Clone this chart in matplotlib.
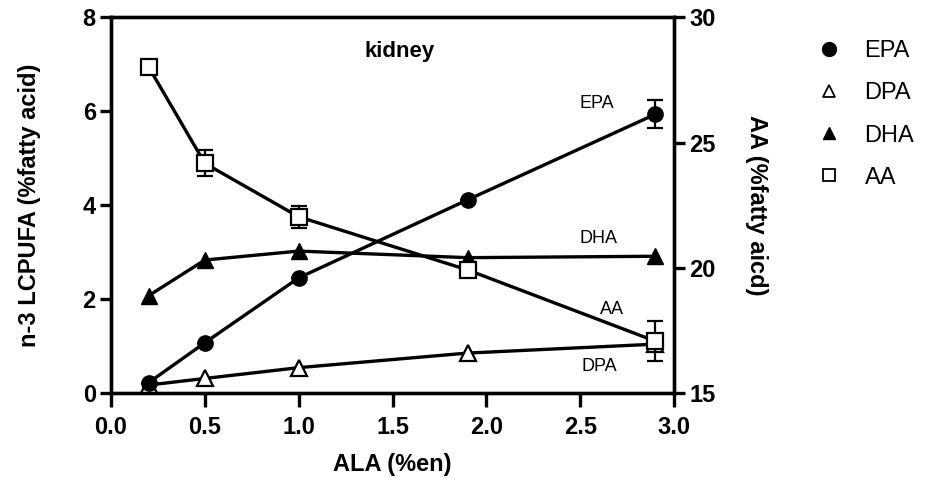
import matplotlib
matplotlib.use("Agg")
import matplotlib.pyplot as plt
from matplotlib.lines import Line2D

plt.rcParams['font.family'] = ['Liberation Sans', 'DejaVu Sans']

ala = [0.2, 0.5, 1.0, 1.9, 2.9]

epa = [0.23, 1.08, 2.46, 4.12, 5.94]
epa_err = [0.0, 0.0, 0.0, 0.0, 0.30]
dpa = [0.18, 0.32, 0.55, 0.86, 1.05]
dha = [2.08, 2.84, 3.03, 2.89, 2.92]
aa = [28.03, 24.18, 22.05, 19.93, 17.09]
aa_err = [0.0, 0.52, 0.44, 0.0, 0.80]

series_names = ['EPA', 'DPA', 'DHA', 'AA']

fig = plt.figure(figsize=(9.3, 4.79), dpi=100)
ax = fig.add_axes([0.1194, 0.1785, 0.6053, 0.785])
ax2 = ax.twinx()

lw = 2.4
ms = 11
style = dict(color='black', lw=lw, capsize=5.5, elinewidth=1.6, capthick=1.6)

ax.errorbar(ala, dpa, marker='^', ms=ms, mfc='white', mec='black', mew=1.6, zorder=3, **style)
ax.errorbar(ala, dha, marker='^', ms=ms, mfc='black', mec='black', zorder=3, **style)
ax.errorbar(ala, epa, yerr=epa_err, marker='o', ms=ms, mfc='black', mec='black', zorder=4, **style)
ax2.errorbar(ala, aa, yerr=aa_err, marker='s', ms=ms, mfc='white', mec='black', mew=1.6, zorder=3, **style)

ax.set_xlim(0, 3.0)
ax.set_ylim(0, 8)
ax2.set_ylim(15, 30)
ax.set_xticks([0.0, 0.5, 1.0, 1.5, 2.0, 2.5, 3.0])
ax.set_yticks([0, 2, 4, 6, 8])
ax2.set_yticks([15, 20, 25, 30])

for a in (ax, ax2):
    for sp in a.spines.values():
        sp.set_linewidth(2.4)
    a.tick_params(direction='out', width=2.4, length=8, labelsize=17, pad=3)
    for lab in a.get_xticklabels() + a.get_yticklabels():
        lab.set_fontweight('bold')
ax.tick_params(axis='x', length=10, pad=6)

ax.set_xlabel('ALA (%en)', fontsize=17, fontweight='bold', labelpad=10)
ax.set_ylabel('n-3 LCPUFA (%fatty acid)', fontsize=17, fontweight='bold', labelpad=30)
ax2.set_ylabel('AA (%fatty aicd)', fontsize=17, fontweight='bold', rotation=270, labelpad=38)

ax.text(1.54, 7.27, 'kidney', fontsize=16, fontweight='bold', ha='center', va='center')
ax.text(2.59, 6.16, 'EPA', fontsize=13, ha='center', va='center')
ax.text(2.60, 3.30, 'DHA', fontsize=13, ha='center', va='center')
ax.text(2.67, 1.79, 'AA', fontsize=13, ha='center', va='center')
ax.text(2.60, 0.57, 'DPA', fontsize=13, ha='center', va='center')

handles = [
    Line2D([], [], ls='none', marker='o', ms=10, mfc='black', mec='black'),
    Line2D([], [], ls='none', marker='^', ms=9, mfc='white', mec='black', mew=1.3),
    Line2D([], [], ls='none', marker='^', ms=9, mfc='black', mec='black'),
    Line2D([], [], ls='none', marker='s', ms=9, mfc='white', mec='black', mew=1.3),
]
fig.legend(handles, series_names, loc='upper left', bbox_to_anchor=(0.856, 0.96),
           frameon=False, fontsize=17, labelspacing=0.85, handletextpad=1.0,
           handlelength=1.0)

fig.savefig('out.png', dpi=100)
